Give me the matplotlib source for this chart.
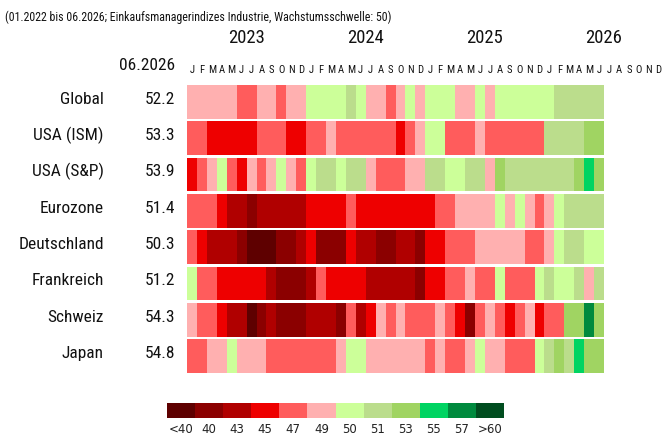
import numpy as np
import matplotlib.pyplot as plt
from matplotlib.colors import ListedColormap, BoundaryNorm

# Einkaufsmanagerindizes Industrie, monthly 01.2023 - 06.2026
regions = ['Global', 'USA (ISM)', 'USA (S&P)', 'Eurozone', 'Deutschland',
           'Frankreich', 'Schweiz', 'Japan']

pmi_global = [49.5, 49.5, 49.5, 49.5, 49.5, 48.0, 48.0, 49.5, 49.5, 48.0, 49.5, 49.5,
              50.5, 50.5, 50.5, 50.5, 52.0, 50.5, 49.5, 49.5, 48.0, 49.5, 50.5, 49.5,
              50.5, 50.5, 50.5, 49.5, 49.5, 50.5, 49.5, 50.5, 50.5, 50.5, 50.5, 50.5,
              50.5, 52.0, 52.0, 52.0, 52.0, 52.2]
pmi_usa_ism = [48.0, 48.0, 46.0, 46.0, 46.0, 46.0, 46.0, 48.0, 48.0, 48.0, 46.0, 46.0,
               48.0, 48.0, 49.5, 48.0, 48.0, 48.0, 48.0, 48.0, 48.0, 46.0, 48.0, 49.5,
               50.5, 50.5, 48.0, 48.0, 48.0, 49.5, 48.0, 48.0, 48.0, 48.0, 48.0, 48.0,
               52.0, 52.0, 52.0, 52.0, 54.0, 53.3]
pmi_usa_sp = [46.0, 48.0, 49.5, 50.5, 48.0, 46.0, 49.5, 48.0, 49.5, 50.5, 49.5, 48.0,
              50.5, 52.0, 52.0, 50.5, 52.0, 52.0, 49.5, 48.0, 48.0, 48.0, 49.5, 49.5,
              52.0, 52.0, 50.5, 50.5, 52.0, 52.0, 49.5, 54.0, 52.0, 52.0, 52.0, 52.0,
              52.0, 52.0, 52.0, 54.0, 56.0, 53.9]
pmi_eurozone = [48.0, 48.0, 48.0, 46.0, 44.0, 44.0, 41.5, 44.0, 44.0, 44.0, 44.0, 44.0,
                46.0, 46.0, 46.0, 46.0, 48.0, 46.0, 46.0, 46.0, 46.0, 46.0, 46.0, 46.0,
                46.0, 48.0, 48.0, 49.5, 49.5, 49.5, 49.5, 50.5, 49.5, 50.5, 49.5, 48.0,
                49.5, 50.5, 52.0, 52.0, 52.0, 51.4]
pmi_deutschland = [48.0, 46.0, 44.0, 44.0, 44.0, 41.5, 38.5, 38.5, 38.5, 41.5, 41.5, 44.0,
                   46.0, 41.5, 41.5, 41.5, 46.0, 44.0, 44.0, 41.5, 41.5, 44.0, 44.0, 41.5,
                   46.0, 46.0, 48.0, 48.0, 48.0, 49.5, 49.5, 49.5, 49.5, 49.5, 48.0, 48.0,
                   49.5, 50.5, 52.0, 52.0, 50.5, 50.3]
pmi_frankreich = [50.5, 48.0, 48.0, 46.0, 46.0, 46.0, 46.0, 46.0, 44.0, 41.5, 41.5, 41.5,
                  44.0, 48.0, 46.0, 46.0, 46.0, 46.0, 44.0, 44.0, 44.0, 44.0, 44.0, 41.5,
                  46.0, 46.0, 48.0, 48.0, 49.5, 48.0, 48.0, 50.5, 48.0, 48.0, 48.0, 50.5,
                  52.0, 50.5, 50.5, 52.0, 49.5, 51.2]
pmi_schweiz = [49.5, 48.0, 48.0, 46.0, 44.0, 44.0, 38.5, 41.5, 44.0, 41.5, 41.5, 41.5,
               44.0, 44.0, 44.0, 41.5, 48.0, 44.0, 46.0, 49.5, 48.0, 49.5, 48.0, 48.0,
               48.0, 49.5, 48.0, 46.0, 41.5, 48.0, 49.5, 48.0, 46.0, 48.0, 49.5, 46.0,
               48.0, 48.0, 54.0, 54.0, 58.5, 54.3]
pmi_japan = [48.0, 48.0, 49.5, 49.5, 50.5, 49.5, 49.5, 49.5, 48.0, 48.0, 48.0, 48.0,
             48.0, 48.0, 48.0, 49.5, 50.5, 50.5, 49.5, 49.5, 49.5, 49.5, 49.5, 49.5,
             48.0, 49.5, 48.0, 48.0, 49.5, 50.5, 49.5, 49.5, 48.0, 48.0, 48.0, 50.5,
             52.0, 54.0, 52.0, 56.0, 54.0, 54.8]

rows = [pmi_global, pmi_usa_ism, pmi_usa_sp, pmi_eurozone, pmi_deutschland,
        pmi_frankreich, pmi_schweiz, pmi_japan]

years = ['2023', '2024', '2025', '2026']
month_letters = 'JFMAMJJASOND'
latest_label = '06.2026'
subtitle = '(01.2022 bis 06.2026; Einkaufsmanagerindizes Industrie, Wachstumsschwelle: 50)'

# colour classes
bounds = [0, 40, 43, 45, 47, 49, 50, 51, 53, 55, 57, 60, 100]
legend_labels = ['<40', '40', '43', '45', '47', '49', '50', '51', '53', '55', '57', '>60']
colors = ['#5e0000', '#8b0000', '#b00000', '#ee0000', '#ff5c5c', '#ffb0b0',
          '#ccff99', '#bbdd8c', '#a0d462', '#00d462', '#008a3e', '#004d1f']
cmap = ListedColormap(colors)
norm = BoundaryNorm(bounds, cmap.N)

narrow = ['Roboto Condensed', 'Archivo Narrow', 'DejaVu Sans']

fig = plt.figure(figsize=(6.62, 4.35), dpi=100)
ax = fig.add_axes([187/662, 1 - 374/435, 417/662, 288/435])

n_months = len(rows[0])
edges = np.arange(n_months + 1)
h = 0.4625
for i, vals in enumerate(rows):
    ax.pcolormesh(edges, [i - h, i + h], np.array([vals]), cmap=cmap, norm=norm)

    ax.text(-8.36, i + 0.02, regions[i], ha='right', va='baseline',
            fontsize=12.5, family=narrow, color='#111111')
    ax.text(-1.2, i + 0.02, f'{vals[-1]:.1f}', ha='right', va='baseline',
            fontsize=12.5, family=narrow, color='#111111')

ax.set_xlim(0, n_months)
ax.set_ylim(len(rows) - 1 + h, -h)
ax.axis('off')

# header: months, years, latest date
for k in range(48):
    ax.text(k + 0.5, -0.83, month_letters[k % 12], ha='center', va='baseline',
            fontsize=7.7, family=narrow, clip_on=False, color='#111111')
for j, yr in enumerate(years):
    ax.text(6 + 12*j, -1.65, yr, ha='center', va='baseline',
            fontsize=13.4, family=narrow, clip_on=False, color='#111111')
ax.text(-1.2, -0.90, latest_label, ha='right', va='baseline',
        fontsize=12.5, family=narrow, clip_on=False, color='#111111')

fig.text(5/662, 1 - 21/435, subtitle, ha='left', va='baseline',
         fontsize=8.6, family=narrow, color='#111111')

# colour legend
lax = fig.add_axes([167/662, 1 - 419/435, 337/662, 15.5/435])
lax.pcolormesh(np.arange(13), [0, 1], np.arange(12)[None, :], cmap=cmap,
               vmin=-0.5, vmax=11.5)
lax.set_xlim(0, 12)
lax.set_xticks(np.arange(12) + 0.5, legend_labels)
lax.set_yticks([])
lax.tick_params(axis='x', length=0, pad=3, labelsize=8.5, labelcolor='#222222')
for s in lax.spines.values():
    s.set_visible(False)

fig.savefig('out.png', dpi=100)
